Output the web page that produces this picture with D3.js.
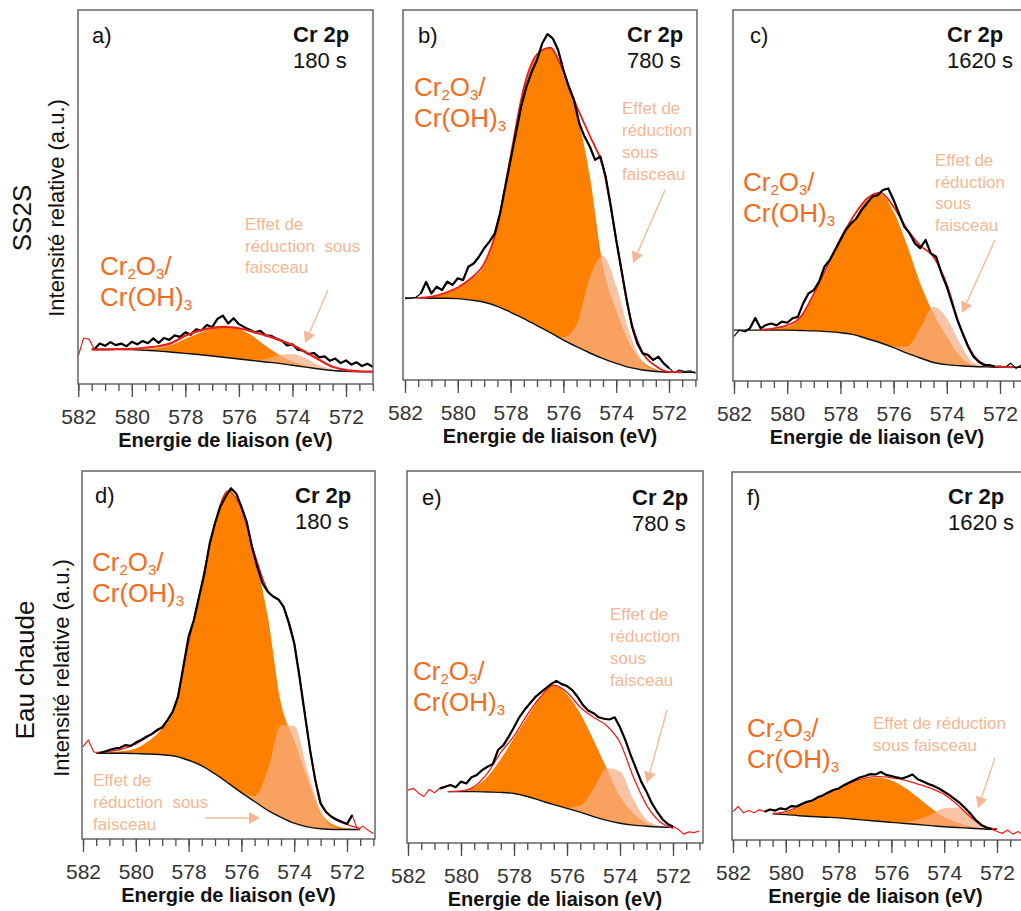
<!DOCTYPE html>
<html><head><meta charset="utf-8">
<script src="https://cdn.jsdelivr.net/npm/d3@7"></script>
<style>
body{margin:0;background:#fff}
svg{display:block}
text{font-family:"Liberation Sans",Arial,sans-serif}
</style>
</head><body>
<svg id="chart" width="1021" height="911"></svg>
<script>
// ---------- energy grids (eV) ----------
const energyFit = d3.range(23).map(i => 582 - i * 0.5);              // 582 → 571 step 0.5
const energyData = d3.range(56).map(i => +(582 - i * 0.2).toFixed(1)); // 582 → 571 step 0.2
const majorTicks = [582, 580, 578, 576, 574, 572];
const minorTicks = d3.range(23).map(i => 582 - i * 0.5);
const tickLabels = ["582", "580", "578", "576", "574", "572"];
const times = ["180 s", "780 s", "1620 s", "180 s", "780 s", "1620 s"];
const panelLetters = ["a)", "b)", "c)", "d)", "e)", "f)"];
const rowLabels = ["SS2S", "Eau chaude"];

// ---------- panel a (SS2S, 180 s) ----------
const bgA    = [null,9.3,9.3,9.3,9.2,9.0,8.8,8.5,8.2,7.9,7.5,7.1,6.7,6.3,5.9,5.5,5.0,4.5,4.0,3.6,3.4,3.3,3.3];
const mainA  = [0,0,0,0,0.1,0.3,0.9,2.0,3.9,5.7,7.3,8.2,8.0,6.6,4.3,2.3,1.0,0.4,0.1,0,0,0,0];
const smallA = [0,0,0,0,0,0,0,0,0,0,0,0,0,0.2,0.8,2.2,3.0,2.3,1.0,0.3,0.05,0,0];
const envA   = [null,9.2,9.2,9.3,9.4,9.7,10.1,11.0,12.9,14.2,15.0,15.3,14.9,14.0,13.0,11.8,10.4,8.5,6.5,4.6,3.7,3.4,3.3];
const dataA  = [7.5,12.3,12.0,9.3,10.8,10.2,11.2,10.4,10.8,10.1,11.3,10.6,11.5,10.9,12.2,11.0,12.3,11.8,13.0,12.6,
                13.8,13.2,14.6,14.3,15.8,15.2,17.4,18.3,16.2,17.6,16.0,15.2,14.5,13.8,14.2,13.0,12.9,12.1,11.6,10.3,
                10.6,9.2,8.9,8.0,8.3,7.1,7.4,6.2,6.8,5.6,6.3,5.2,5.8,4.8,5.4,4.6];

// ---------- panel b (SS2S, 780 s) ----------
const bgB    = [22.2,22.2,22.1,22.1,22.0,21.6,21.0,19.9,18.3,16.6,14.7,12.8,10.8,9.0,7.3,5.8,4.5,3.4,2.7,2.3,2.1,2.1,2.1];
const mainB  = [0,0.1,0.5,1.4,2.8,5.6,10.1,21.5,42.1,62.2,73.1,76.8,71.7,63.5,47.7,24.8,14.4,6.5,2.3,0.6,0,0,0];
const smallB = [0,0,0,0,0,0,0,0,0,0,0,0,0.8,6.0,20.5,27.7,21.0,9.5,2.2,0.3,0,0,0];
const envB   = [null,22.2,22.5,23.5,25.0,27.5,31.5,41.5,60.5,79.0,88.0,89.8,83.2,74.0,66.0,57.5,38.0,17.8,7.4,3.8,2.2,2.1,null];
const dataB  = [22.0,22.1,22.3,23.4,26.5,23.4,25.2,24.3,26.6,25.7,27.5,27.0,30.6,31.5,33.3,35.6,37.4,39.6,45.0,52.3,
                59.5,66.7,73.9,79.3,83.3,86.5,91.0,93.5,92.3,89.2,83.8,79.3,75.7,69.4,65.8,63.1,59.5,60.4,55.0,46.8,
                37.8,29.7,21.6,14.4,9.9,7.2,6.8,5.4,6.3,4.5,3.2,2.0,2.7,2.3,2.5,1.8];

// ---------- panel c (SS2S, 1620 s) ----------
const bgC    = [13.7,13.7,13.7,13.7,13.7,13.6,13.5,13.3,13.0,12.5,11.4,10.3,9.0,7.5,6.2,5.0,4.4,4.1,3.9,3.8,3.7,3.7,3.7];
const mainC  = [0,0,0.1,0.3,0.9,3.3,9.6,16.8,24.8,30.9,37.4,40.1,36.6,29.2,20.1,13.2,7.6,2.5,0.4,0,0,0,0];
const smallC = [0,0,0,0,0,0,0,0,0,0,0,0,0.3,1.8,8.0,15.0,12.5,6.0,1.0,0.1,0,0,0];
const envC   = [null,null,13.8,14.2,15.0,17.2,23.5,30.8,38.3,44.5,49.2,50.8,47.0,41.0,36.5,33.5,26.0,14.5,7.0,4.3,3.8,3.7,null];
const dataC  = [12.0,13.7,13.3,14.2,17.0,14.2,15.1,15.5,15.0,16.0,15.7,16.9,17.3,20.9,23.6,24.5,26.8,30.8,32.6,35.3,
                38.0,40.7,42.5,43.8,46.1,47.9,49.7,50.1,51.5,51.9,48.8,45.2,41.6,39.8,37.1,35.8,38.0,34.4,33.5,29.0,
                25.4,20.9,16.4,12.8,9.3,6.6,5.2,4.3,4.3,3.9,4.0,3.7,4.8,3.4,4.3,3.8];

// ---------- panel d (Eau chaude, 180 s) ----------
const bgD    = [null,23.3,23.3,23.3,23.2,23.1,22.9,22.5,21.4,19.9,17.7,15.2,12.6,10.2,7.8,5.9,4.3,3.3,2.8,2.6,2.6,2.6,null];
const mainD  = [0,0.1,0.3,0.6,1.4,3.6,7.1,13.5,30.9,49.6,68.5,79.5,76.4,67.0,52.6,31.0,22.6,13.2,4.6,1.2,0.3,0,0];
const smallD = [0,0,0,0,0,0,0,0,0,0,0,0,0.2,1.5,11.0,25.0,26.5,15.5,4.8,0.6,0,0,0];
const envD   = [null,23.5,23.8,24.5,25.8,28.0,30.5,36.5,53.0,69.5,86.0,94.6,89.5,77.5,67.5,64.3,53.5,29.0,9.5,5.5,4.0,2.8,null];
const dataD  = [25.1,26.9,23.7,23.3,23.7,24.2,24.6,24.8,25.5,25.3,26.2,26.9,27.8,28.5,29.6,30.3,32.3,34.6,38.7,46.8,
                55.0,59.5,65.9,72.2,80.3,85.8,90.3,93.0,95.3,93.9,90.3,86.2,79.4,74.0,69.5,67.2,65.9,65.1,63.1,58.6,
                53.2,44.1,34.1,24.2,16.0,9.7,7.4,6.1,5.3,4.7,4.1,6.5,2.4,3.5,2.4,1.5];

// ---------- panel e (Eau chaude, 780 s) ----------
const bgE    = [null,null,null,13.8,13.8,13.8,13.7,13.6,13.3,12.5,11.4,10.3,9.3,8.3,7.1,6.1,5.3,4.8,4.5,4.3,4.2,null,null];
const mainE  = [0,0,0,0.1,0.2,1.2,4.1,9.0,14.9,21.3,27.8,31.9,30.7,26.5,20.6,13.9,7.2,3.2,0.8,0.1,0,0,0];
const smallE = [0,0,0,0,0,0,0,0,0,0,0,0,0.2,1.7,7.5,14.0,14.0,7.0,1.8,0.3,0,0,0];
const envE   = [null,null,null,13.8,14.0,15.2,18.8,24.3,28.8,34.5,39.3,42.4,40.5,36.5,33.8,31.5,27.0,17.8,10.2,5.8,3.9,null,null];
const dataE  = [14.2,14.7,13.4,12.5,14.4,13.5,14.7,15.1,15.6,15.0,16.5,16.0,17.7,18.3,19.6,20.5,21.2,25.0,26.3,28.6,
                31.1,33.8,35.8,37.5,39.2,40.4,41.6,42.7,43.6,42.7,42.2,41.1,39.3,37.1,35.6,34.9,33.8,33.4,33.2,33.8,
                31.1,27.7,23.7,20.1,16.5,13.8,10.7,8.4,6.4,5.1,4.4,3.7,2.4,3.0,2.8,3.3];

// ---------- panel f (Eau chaude, 1620 s) ----------
const bgF    = [null,null,null,7.1,6.9,6.6,6.4,6.2,6.0,5.7,5.4,5.1,4.8,4.5,4.2,3.9,3.6,3.4,3.2,3.0,2.9,null,null];
const mainF  = [0,0,0,0.1,0.6,2.3,3.9,5.8,7.8,9.7,11.2,11.8,11.4,9.8,7.4,4.8,2.6,1.4,0.4,0.1,0,0,0];
const smallF = [0,0,0,0,0,0,0,0,0,0,0,0,0.1,0.4,1.3,3.0,5.0,5.4,3.5,1.0,0.1,0,0];
const envF   = [null,null,null,7.2,7.7,9.1,10.6,12.3,14.0,15.6,16.8,17.2,16.9,16.3,15.2,14.0,12.4,9.6,6.2,3.8,3.0,null,null];
const dataF  = [7.7,9.1,7.4,8.0,7.4,8.2,7.7,8.3,8.0,8.6,8.3,9.2,9.1,9.8,10.4,10.7,11.6,12.1,12.9,13.6,
                14.0,14.9,15.6,16.3,17.0,17.4,17.9,17.8,18.5,17.7,17.4,17.0,16.7,17.2,17.8,16.5,15.9,15.2,14.7,14.0,
                13.1,12.2,11.1,10.0,8.6,7.1,5.4,4.1,3.4,2.9,2.3,1.8,2.7,1.6,2.3,1.4];

// ---------- layout (positions / styles only) ----------
const C_MAIN = "#fe8000", C_SMALL = "#f7ad82", C_RED = "#e8201c", C_LABEL = "#f26c1c", C_NOTE = "#f5b793";
const panels = [
  {bg:bgA, main:mainA, small:smallA, env:envA, data:dataA, thick:[581.4,571.0], tail:C_RED, redTop:true, envW:2.2,
   frame:[78,10,373,384], x582:78.3, x572:346, letter:[92,43], cr:[293,42,68], lab:[100,275,306],
   note:{x:245,y:230,lh:21.5,lines:["Effet de","réduction\u00a0 sous","faisceau"]}, arrow:[328,290,305,343]},
  {bg:bgB, main:mainB, small:smallB, env:envB, data:dataB, thick:[581.5,572.0], tail:"#000", redTop:false, envW:1.8,
   frame:[403,10,697,380], x582:405, x572:669, letter:[418,43], cr:[627,42,68], lab:[414,96,127],
   note:{x:622,y:114,lh:22,lines:["Effet de","réduction","sous","faisceau"]}, arrow:[665,190,633,263]},
  {bg:bgC, main:mainC, small:smallC, env:envC, data:dataC, thick:[581.6,572.2], tail:"#000", redTop:false, envW:1.8,
   frame:[733,10,1027,381], x582:734, x572:1000, letter:[750,43], cr:[947,42,68], lab:[743,191,222],
   note:{x:935,y:166,lh:21.5,lines:["Effet de","réduction","sous","faisceau"]}, arrow:[995,240,962,313]},
  {bg:bgD, main:mainD, small:smallD, env:envD, data:dataD, thick:[581.4,571.8], tail:C_RED, redTop:false, envW:1.3,
   frame:[82,471,375,839], x582:83, x572:347, letter:[95,503], cr:[295,503,529], lab:[92,571,602],
   note:{x:93,y:786,lh:22,lines:["Effet de","réduction\u00a0 sous","faisceau"]}, arrow:[205,818,260,818]},
  {bg:bgE, main:mainE, small:smallE, env:envE, data:dataE, thick:[580.8,571.9], tail:C_RED, redTop:false, envW:1.3,
   frame:[407,471,703,843], x582:408, x572:673, letter:[422,505], cr:[632,505,531], lab:[413,680,711],
   note:{x:610,y:620,lh:22,lines:["Effet de","réduction","sous","faisceau"]}, arrow:[667,710,647,783]},
  {bg:bgF, main:mainF, small:smallF, env:envF, data:dataF, thick:[580.8,572.2], tail:C_RED, redTop:false, envW:1.3,
   frame:[732,472,1025,840], x582:733, x572:997, letter:[747,505], cr:[948,504,530], lab:[747,737,768],
   note:{x:873,y:729,lh:22,lines:["Effet de réduction","sous faisceau"]}, arrow:[995,758,978,808]}
];

const svg = d3.select("#chart");
const defs = svg.append("defs");

panels.forEach((p, i) => {
  const [x0, y0, x1, y1] = p.frame;
  const x = d3.scaleLinear().domain([582, 572]).range([p.x582, p.x572]);
  const y = d3.scaleLinear().domain([0, 100]).range([y1, y0]);
  const g = svg.append("g");
  defs.append("clipPath").attr("id", "clip" + i)
    .append("rect").attr("x", x0).attr("y", y0).attr("width", x1 - x0).attr("height", y1 - y0);
  const plot = g.append("g").attr("clip-path", `url(#clip${i})`);

  // component rows
  const comp = energyFit.map((e, k) => ({e, bg: p.bg[k], main: p.main[k], small: p.small[k], env: p.env[k]}));
  const withBg = comp.filter(d => d.bg !== null);
  const areaMain = d3.area().curve(d3.curveMonotoneX)
    .x(d => x(d.e)).y0(d => y(d.bg)).y1(d => y(d.bg + d.main));
  const areaSmall = d3.area().curve(d3.curveMonotoneX)
    .x(d => x(d.e)).y0(d => y(d.bg)).y1(d => y(d.bg + d.small));
  plot.append("path").datum(withBg).attr("d", areaMain).attr("fill", C_MAIN);
  plot.append("path").datum(withBg).attr("d", areaSmall).attr("fill", C_SMALL).attr("fill-opacity", 0.72);
  plot.append("path").datum(withBg)
    .attr("d", d3.line().curve(d3.curveMonotoneX).x(d => x(d.e)).y(d => y(d.bg)))
    .attr("fill", "none").attr("stroke", "#111").attr("stroke-width", 1.4);

  // data
  const pts = energyData.map((e, k) => ({e, v: p.data[k]}));
  const dataLine = d3.line().x(d => x(d.e)).y(d => y(d.v));
  const envLine = d3.line().curve(d3.curveMonotoneX).defined(d => d.env !== null)
    .x(d => x(d.e)).y(d => y(d.env));
  plot.append("path").datum(pts).attr("d", dataLine)
    .attr("fill", "none").attr("stroke", p.tail).attr("stroke-width", 1.2).attr("stroke-linejoin", "round");
  const drawEnv = () => plot.append("path").datum(comp).attr("d", envLine)
    .attr("fill", "none").attr("stroke", C_RED).attr("stroke-width", p.envW);
  if (!p.redTop) drawEnv();
  plot.append("path").datum(pts.filter(d => d.e <= p.thick[0] + 1e-6 && d.e >= p.thick[1] - 1e-6))
    .attr("d", dataLine).attr("fill", "none").attr("stroke", "#000")
    .attr("stroke-width", 2.2).attr("stroke-linejoin", "round");
  if (p.redTop) drawEnv();

  // frame
  g.append("rect").attr("x", x0).attr("y", y0).attr("width", x1 - x0).attr("height", y1 - y0)
    .attr("fill", "none").attr("stroke", "#5a5a5a").attr("stroke-width", 1.4);

  // axis
  const ax = g.append("g").attr("transform", `translate(0,${y1})`);
  ax.call(d3.axisBottom(x).tickValues(minorTicks.filter(t => x(t) <= x1 + 0.5)).tickSize(7).tickFormat(""));
  const axM = g.append("g").attr("transform", `translate(0,${y1})`);
  axM.call(d3.axisBottom(x).tickValues(majorTicks).tickSize(13)
    .tickFormat((d) => tickLabels[majorTicks.indexOf(d)]));
  [ax, axM].forEach(a => {
    a.select(".domain").remove();
    a.selectAll("line").attr("stroke", "#4a4a4a").attr("stroke-width", 1.3);
  });
  axM.selectAll("text").attr("y", 40).attr("dy", null)
    .attr("font-size", 21).attr("fill", "#333")
    .style("font-family", '"Liberation Sans",Arial,sans-serif');
  g.append("text").attr("x", (x0 + x1) / 2 - (i % 3 === 2 ? 3 : 0)).attr("y", y1 + 63)
    .attr("text-anchor", "middle").attr("font-size", 20).attr("font-weight", "bold").attr("fill", "#111")
    .text("Energie de liaison (eV)");

  // panel texts
  g.append("text").attr("x", p.letter[0]).attr("y", p.letter[1]).attr("font-size", 22).attr("fill", "#111")
    .text(panelLetters[i]);
  const crT = g.append("text").attr("x", p.cr[0]).attr("y", p.cr[1]).attr("font-size", 22).attr("fill", "#111");
  crT.append("tspan").attr("font-weight", "bold").text("Cr 2p");
  crT.append("tspan").attr("x", p.cr[0]).attr("dy", p.cr[2] - p.cr[1]).text(times[i]);

  // species label (one text element, two lines)
  const lab = g.append("text").attr("x", p.lab[0]).attr("y", p.lab[1]).attr("font-size", 26).attr("fill", C_LABEL);
  lab.append("tspan").text("Cr");
  lab.append("tspan").attr("font-size", 15).attr("dy", 4).text("2");
  lab.append("tspan").attr("dy", -4).text("O");
  lab.append("tspan").attr("font-size", 15).attr("dy", 4).text("3");
  lab.append("tspan").attr("dy", -4).text("/");
  lab.append("tspan").attr("x", p.lab[0]).attr("dy", p.lab[2] - p.lab[1]).text("Cr(OH)");
  lab.append("tspan").attr("font-size", 15).attr("dy", 4).text("3");

  // note + arrow
  const note = g.append("text").attr("x", p.note.x).attr("y", p.note.y).attr("font-size", 17).attr("fill", C_NOTE);
  p.note.lines.forEach((t, k) => {
    note.append("tspan").attr("x", p.note.x).attr("dy", k === 0 ? 0 : p.note.lh).text(t);
  });
  const [ax0, ay0, ax1, ay1] = p.arrow;
  const ang = Math.atan2(ay1 - ay0, ax1 - ax0), L = 11, W = 6;
  const bx = ax1 - L * Math.cos(ang), by = ay1 - L * Math.sin(ang);
  g.append("line").attr("x1", ax0).attr("y1", ay0).attr("x2", bx).attr("y2", by)
    .attr("stroke", C_NOTE).attr("stroke-width", 1.3);
  g.append("path").attr("d", `M${ax1},${ay1}L${bx + W * Math.sin(ang)},${by - W * Math.cos(ang)}L${bx - W * Math.sin(ang)},${by + W * Math.cos(ang)}Z`)
    .attr("fill", C_NOTE);
});

// row labels
[[22, 218, 56, 208], [25, 670, 61, 668]].forEach((r, k) => {
  svg.append("text").attr("transform", `translate(${r[0]},${r[1]}) rotate(-90)`)
    .attr("text-anchor", "middle").attr("dominant-baseline", "central")
    .attr("font-size", 26).attr("fill", "#111").text(rowLabels[k]);
  svg.append("text").attr("transform", `translate(${r[2]},${r[3]}) rotate(-90)`)
    .attr("text-anchor", "middle").attr("dominant-baseline", "central")
    .attr("font-size", 22).attr("fill", "#111").text("Intensité relative (a.u.)");
});
</script>
</body></html>
